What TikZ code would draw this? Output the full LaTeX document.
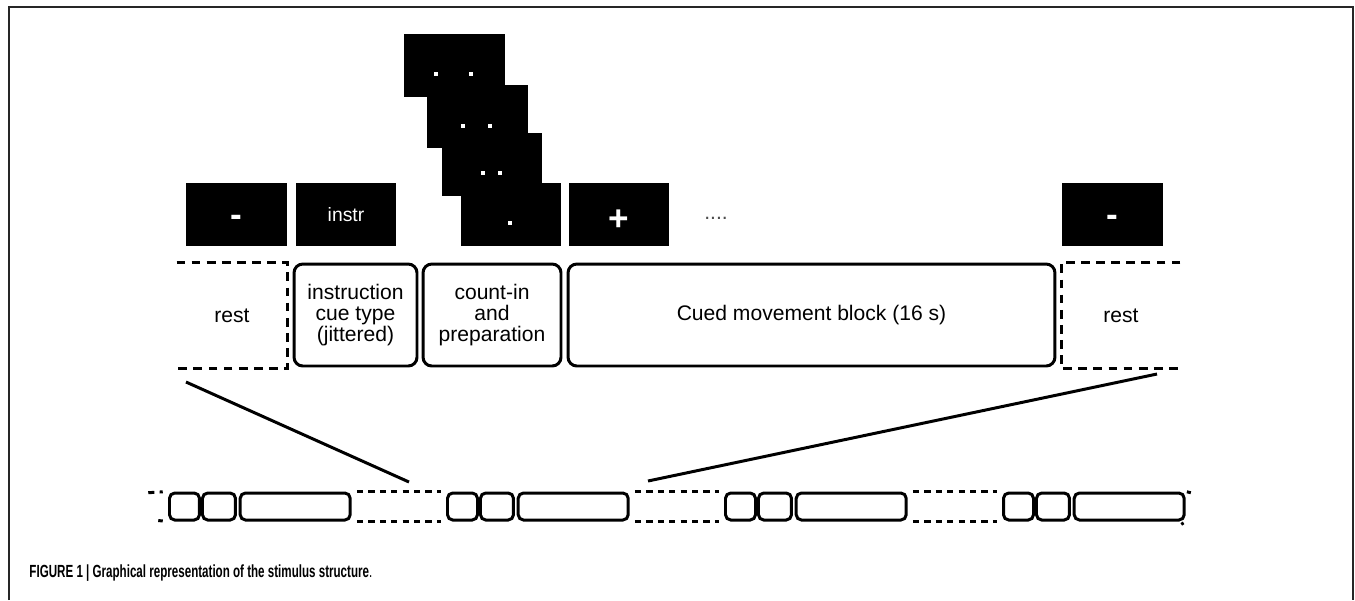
\documentclass[tikz,border=0pt]{standalone}
\usepackage{fontspec}
\setmainfont{Liberation Sans}
\usepackage{graphicx}
\usetikzlibrary{positioning}

\begin{document}
\begin{tikzpicture}[x=0.02cm,y=-0.02cm,line width=1.7pt,
   screen/.style={fill=black,minimum width=2.02cm,minimum height=1.26cm,inner sep=0pt,text=white,font=\bfseries\fontsize{20}{20}\selectfont},
   pix/.style={fill=white,minimum size=0.08cm,inner sep=0pt},
   stage/.style={draw,rounded corners=5pt,align=center,minimum height=2.04cm,inner sep=0pt,font=\fontsize{12}{11.8}\selectfont},
   restbox/.style={minimum height=2.06cm,inner sep=0pt,font=\fontsize{12}{11.8}\selectfont},
   restline/.style={dash pattern=on 5pt off 3.6pt},
   seg/.style={draw,rounded corners=3pt,minimum height=0.54cm,inner sep=0pt},
   gapline/.style={dash pattern=on 3.5pt off 3pt,shorten <=3pt,shorten >=3pt}]
  \fill[white] (0,0) rectangle (1355,600);
  \useasboundingbox (0,0) rectangle (1355,600);
  \draw[line width=0.9pt,black!85] (9,600) -- (9,7) -- (1353,7) -- (1353,600);

  % screens shown to the subject
  \node[screen,text height=13.4pt,text depth=0pt] (scrRest) at (236.5,214.5) {-};
  \node[screen,font=\fontsize{11}{11}\selectfont] (scrInstr) at (346,214.5) {instr};
  \node[screen] (cnt1) at (454.5,65.5) {};
  \node[screen] (cnt2) at (477.5,116.5) {};
  \node[screen] (cnt3) at (492,164) {};
  \node[screen] (cnt4) at (511,214.5) {};
  \node[pix] at (436,74) {};  \node[pix] at (471,74) {};
  \node[pix] at (463,126) {}; \node[pix] at (490,126) {};
  \node[pix] at (483,173) {}; \node[pix] at (500,173) {};
  \node[pix] at (510,223) {};
  \node[screen,text height=18pt,text depth=0pt] (scrMove) at (619,214.5) {+};
  \node[anchor=base,font=\fontsize{12}{12}\selectfont,text=black!70] (more) at (716,219) {....};
  \node[screen,text height=13.4pt,text depth=0pt] (scrEnd) at (1112,214.5) {-};

  % one trial
  \node[restbox,minimum width=2.16cm] (restL) at (232,315.5) {rest};
  \draw[restline] (restL.north west) -- (restL.north east) -- (restL.south east) -- (restL.south west);
  \node[stage,minimum width=2.46cm] (instr) at (355.5,315) {instruction\\cue type\\(jittered)};
  \node[stage,minimum width=2.76cm] (count) at (492,315) {count-in\\and\\preparation};
  \node[stage,minimum width=9.74cm] (cued) at (811.5,315) {Cued movement block (16 s)};
  \node[restbox,minimum width=2.32cm] (restR) at (1121,315.5) {rest};
  \draw[restline] (restR.north east) -- (restR.north west) -- (restR.south west) -- (restR.south east);

  % whole run
  \foreach \x [count=\i] in {168,446,724,1002} {
    \node[seg,minimum width=0.6cm,anchor=west] (a\i) at (\x,506.5) {};
    \node[seg,minimum width=0.66cm,right=0pt of a\i] (b\i) {};
    \node[seg,minimum width=2.2cm,right=1pt of b\i] (c\i) {};
  }
  \foreach \i/\j in {1/2,2/3,3/4} {
    \draw[gapline] (c\i.north east) -- (a\j.north west);
    \draw[gapline] (c\i.south east) -- (a\j.south west);
  }
  \coordinate (runTL) at (143,493);
  \coordinate (runBL) at (153,520);
  \coordinate (runTR) at (1192,493);
  \coordinate (runBR) at (1188,520);
  \draw[gapline] (runTL) -- (a1.north west);
  \draw[gapline] (runBL) -- (a1.south west);
  \draw[gapline] (c4.north east) -- (runTR);
  \draw[gapline] (c4.south east) -- (runBR);

  \coordinate (zoomL) at (186,382);
  \coordinate (zoomLe) at (409,482);
  \coordinate (zoomR) at (1157,374);
  \coordinate (zoomRe) at (648,481);
  \draw (zoomL) -- (zoomLe);
  \draw (zoomR) -- (zoomRe);

  \node[anchor=base west,inner sep=0pt] (caption) at (28,577)
    {\fontsize{10}{10}\selectfont\scalebox{0.66}[1]{\bfseries FIGURE 1 | Graphical representation of the stimulus structure}\scalebox{0.66}[1]{.}};
\end{tikzpicture}
\end{document}
